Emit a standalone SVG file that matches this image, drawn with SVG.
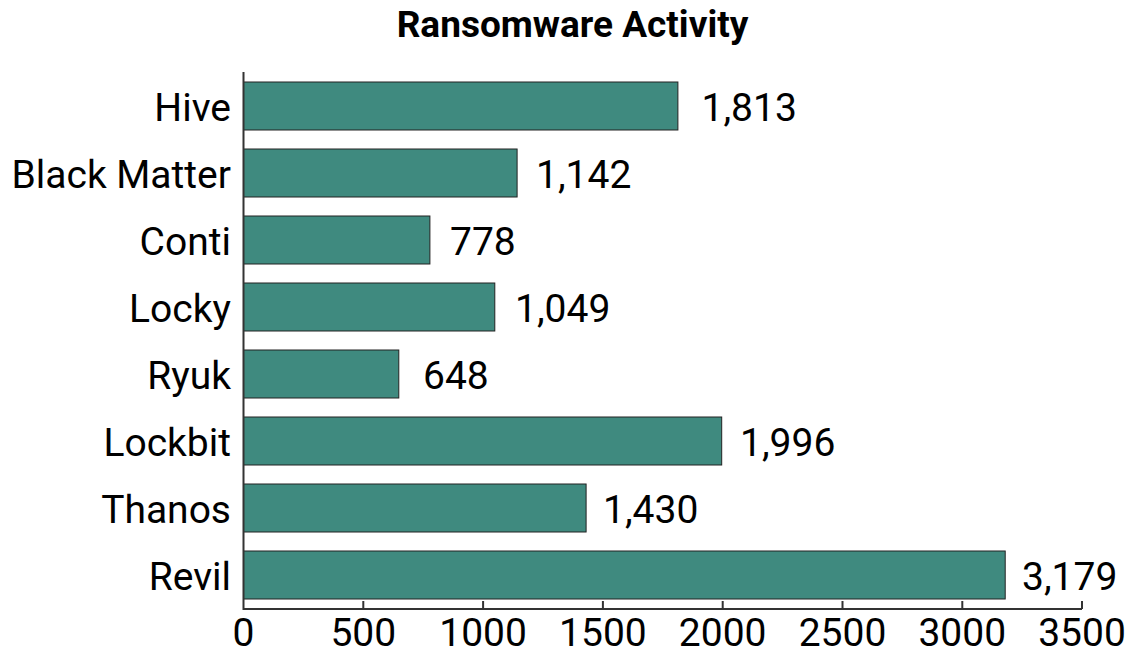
<svg xmlns="http://www.w3.org/2000/svg" width="1130" height="654" viewBox="0 0 1130 654">
<style>
.bar{fill:#3f8a7f;stroke:#222;stroke-width:1}
.cat{font-family:Roboto,"Liberation Sans",sans-serif;font-size:39px;fill:#000;text-anchor:end}
.val{font-family:Roboto,"Liberation Sans",sans-serif;font-size:39px;fill:#000;text-anchor:start}
.tick{font-family:Roboto,"Liberation Sans",sans-serif;font-size:39px;fill:#000;text-anchor:middle}
.axis{stroke:#333;stroke-width:2;fill:none}
.title{font-family:Roboto,"Liberation Sans",sans-serif;font-size:37px;font-weight:bold;fill:#000;text-anchor:middle}
</style>
<rect width="1130" height="654" fill="#fff"/>
<text class="title" x="572.5" y="37">Ransomware Activity</text>
<g id="hive"><rect class="bar" x="243.5" y="82" width="434.4" height="48"/><text class="cat" x="231" y="121">Hive</text><text class="val" x="701.5" y="121">1,813</text></g>
<g id="black-matter"><rect class="bar" x="243.5" y="149" width="273.6" height="48"/><text class="cat" x="231" y="188">Black Matter</text><text class="val" x="536" y="188">1,142</text></g>
<g id="conti"><rect class="bar" x="243.5" y="216" width="186.4" height="48"/><text class="cat" x="231" y="255">Conti</text><text class="val" x="450" y="255">778</text></g>
<g id="locky"><rect class="bar" x="243.5" y="283" width="251.3" height="48"/><text class="cat" x="231" y="322">Locky</text><text class="val" x="515" y="322">1,049</text></g>
<g id="ryuk"><rect class="bar" x="243.5" y="350" width="155.3" height="48"/><text class="cat" x="231" y="389">Ryuk</text><text class="val" x="423" y="389">648</text></g>
<g id="lockbit"><rect class="bar" x="243.5" y="417" width="478.2" height="48"/><text class="cat" x="231" y="456">Lockbit</text><text class="val" x="740" y="456">1,996</text></g>
<g id="thanos"><rect class="bar" x="243.5" y="484" width="342.6" height="48"/><text class="cat" x="231" y="523">Thanos</text><text class="val" x="603" y="523">1,430</text></g>
<g id="revil"><rect class="bar" x="243.5" y="551" width="761.7" height="48"/><text class="cat" x="231" y="590">Revil</text><text class="val" x="1022" y="590">3,179</text></g>
<g id="axes">
<path class="axis" d="M243.5 72V609H1082"/>
<path class="axis" d="M363.3 609v-8M483.1 609v-8M602.9 609v-8M722.7 609v-8M842.5 609v-8M962.3 609v-8M1082 609v-8"/>
<text class="tick" x="243.5" y="646">0</text>
<text class="tick" x="363.3" y="646">500</text>
<text class="tick" x="483.1" y="646">1000</text>
<text class="tick" x="602.9" y="646">1500</text>
<text class="tick" x="722.7" y="646">2000</text>
<text class="tick" x="842.5" y="646">2500</text>
<text class="tick" x="962.3" y="646">3000</text>
<text class="tick" x="1082" y="646">3500</text>
</g>
</svg>
